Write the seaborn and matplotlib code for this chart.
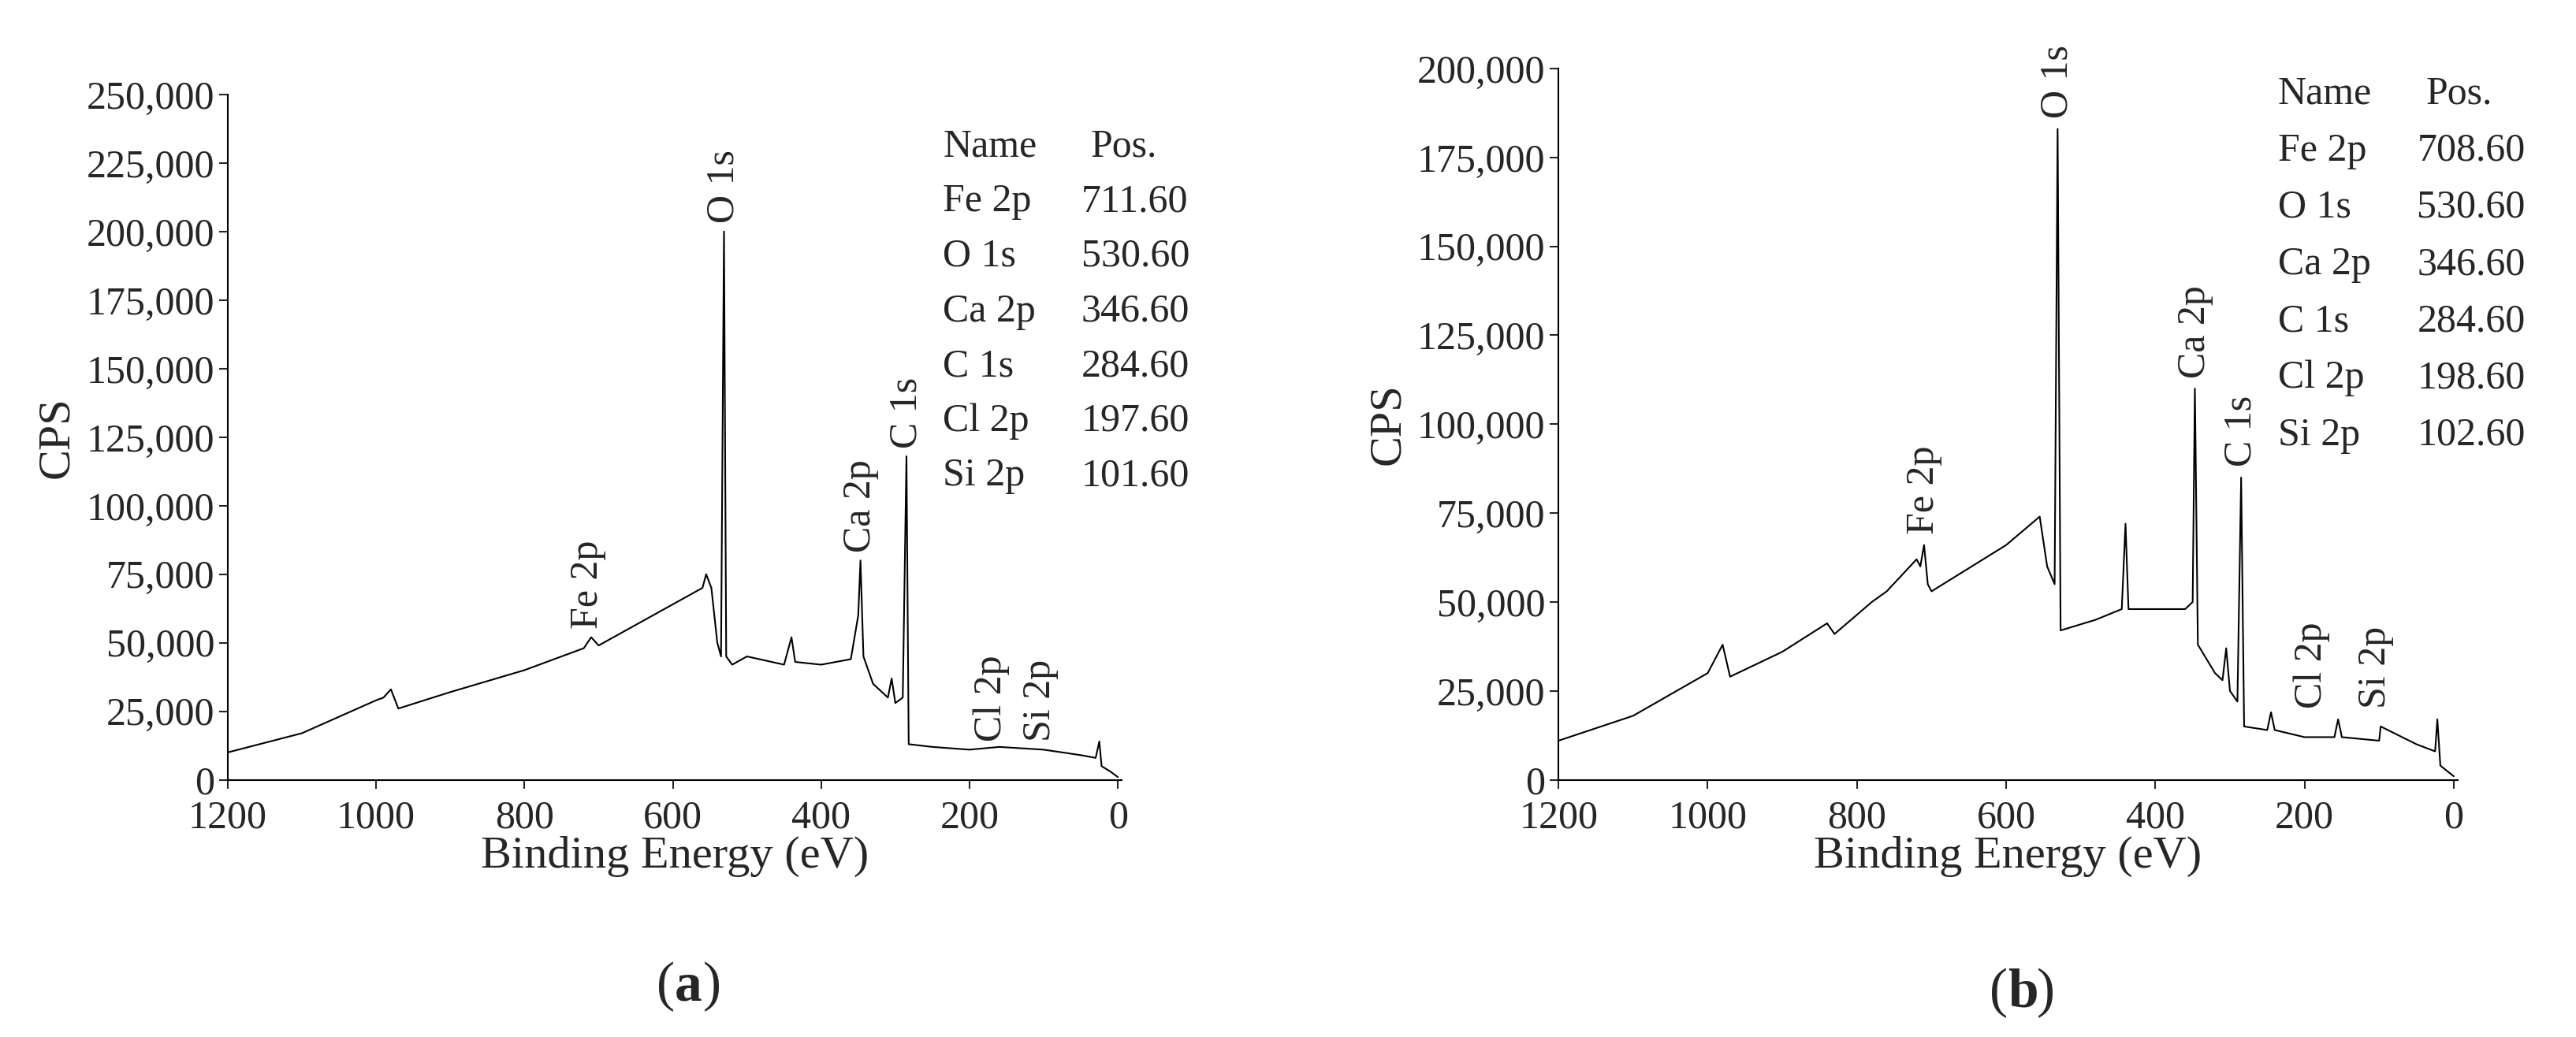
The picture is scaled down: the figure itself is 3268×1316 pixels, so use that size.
import matplotlib
matplotlib.use("Agg")
import matplotlib.pyplot as plt
import seaborn as sns
import pandas as pd

sns.set_theme(style="white")
plt.rcParams['font.family'] = ['Liberation Serif', 'DejaVu Serif']

# panel (a) spectrum
be_a = [1200, 1100, 1000, 990, 980, 970, 900, 800, 720, 710, 700, 600, 560, 555, 548, 540, 535, 531, 528,
        520, 500, 450, 440, 435, 400, 360, 350, 347, 343, 330, 310, 305, 300, 290, 285, 282, 250, 200,
        160, 100, 50, 30, 25, 22, 10, 0]
cps_a = [10000, 17000, 29000, 30000, 33000, 26000, 32000, 40000, 48000, 52000, 49000, 64000, 70000, 75000,
         70000, 50000, 45000, 200000, 45000, 42000, 45000, 42000, 52000, 43000, 42000, 44000, 60000, 80000,
         45000, 35000, 30000, 37000, 28000, 30000, 118000, 13000, 12000, 11000, 12000, 11000, 9000, 8000,
         14000, 5000, 3000, 1000]

# panel (b) spectrum
be_b = [1200, 1100, 1000, 980, 970, 900, 840, 830, 780, 760, 720, 715, 710, 705, 700, 600, 555, 545, 535,
        531, 527, 480, 445, 440, 436, 400, 360, 350, 347, 343, 320, 310, 305, 300, 290, 285, 281, 250, 245,
        240, 200, 160, 155, 150, 100, 98, 50, 25, 22, 18, 0]
cps_b = [11000, 18000, 30000, 38000, 29000, 36000, 44000, 41000, 50000, 53000, 62000, 60000, 66000, 55000,
         53000, 66000, 74000, 60000, 55000, 183000, 42000, 45000, 48000, 72000, 48000, 48000, 48000, 50000,
         110000, 38000, 30000, 28000, 37000, 25000, 22000, 85000, 15000, 14000, 19000, 14000, 12000, 12000,
         17000, 12000, 11000, 15000, 10000, 8000, 17000, 4000, 1000]

names = ["Fe 2p", "O 1s", "Ca 2p", "C 1s", "Cl 2p", "Si 2p"]
pos_a = ["711.60", "530.60", "346.60", "284.60", "197.60", "101.60"]
pos_b = ["708.60", "530.60", "346.60", "284.60", "198.60", "102.60"]

# peak labels: (text, x, y)
labels_a = [("Fe 2p", 715, 55000), ("O 1s", 531, 203000), ("Ca 2p", 347, 83000),
            ("C 1s", 285, 121000), ("Cl 2p", 170, 14000), ("Si 2p", 105, 14000)]
labels_b = [("Fe 2p", 710, 69000), ("O 1s", 531, 186000), ("Ca 2p", 347, 113000),
            ("C 1s", 285, 88000), ("Cl 2p", 190, 20000), ("Si 2p", 105, 20000)]

fig = plt.figure(figsize=(32.68, 13.16), dpi=100)
ax_a = fig.add_axes([0.0884, 0.248, 0.347, 0.661])
ax_b = fig.add_axes([0.605, 0.248, 0.349, 0.686])

fs = 36


def draw(ax, be, cps, ymax, ystep, labels, pos, tx, ty, tag):
    df = pd.DataFrame({"be": be, "cps": cps})
    sns.lineplot(data=df, x="be", y="cps", ax=ax, color="black", linewidth=1.5, sort=False)
    ax.set_xlim(1200, -5)
    ax.set_ylim(0, ymax)
    ax.set_xticks(range(1200, -1, -200))
    ax.set_yticks(range(0, ymax + 1, ystep))
    ax.set_yticklabels([f"{v:,}" for v in range(0, ymax + 1, ystep)])
    ax.tick_params(labelsize=fs, direction="out", length=8, width=1.5, left=True, bottom=True, pad=4)
    ax.tick_params(axis="x", pad=10)
    for s in ["top", "right"]:
        ax.spines[s].set_visible(False)
    for s in ["left", "bottom"]:
        ax.spines[s].set_color("black")
        ax.spines[s].set_linewidth(1.5)
    ax.set_xlabel("Binding Energy (eV)", fontsize=42, labelpad=0)
    ax.set_ylabel("CPS", fontsize=42, labelpad=8)
    for t, x, y in labels:
        ax.text(x, y, t, rotation=90, ha="center", va="bottom", fontsize=fs)
    ax.text(tx, ty, "Name", fontsize=fs, transform=ax.transAxes, va="top")
    ax.text(tx + 0.165, ty, "Pos.", fontsize=fs, transform=ax.transAxes, va="top")
    for i, (n, p) in enumerate(zip(names, pos)):
        ax.text(tx, ty - 0.08 * (i + 1), n, fontsize=fs, transform=ax.transAxes, va="top")
        ax.text(tx + 0.155, ty - 0.08 * (i + 1), p, fontsize=fs, transform=ax.transAxes, va="top")
    ax.text(0.5, -0.265, "(", fontsize=50, transform=ax.transAxes, ha="right", va="top")
    ax.text(0.5, -0.265, tag, fontsize=50, fontweight="bold", transform=ax.transAxes, ha="left", va="top")
    ax.text(0.532, -0.265, ")", fontsize=50, transform=ax.transAxes, ha="left", va="top")


draw(ax_a, be_a, cps_a, 250000, 25000, labels_a, pos_a, 0.8, 0.95, "a")
draw(ax_b, be_b, cps_b, 200000, 25000, labels_b, pos_b, 0.8, 0.99, "b")

fig.savefig("out.png", dpi=100)
